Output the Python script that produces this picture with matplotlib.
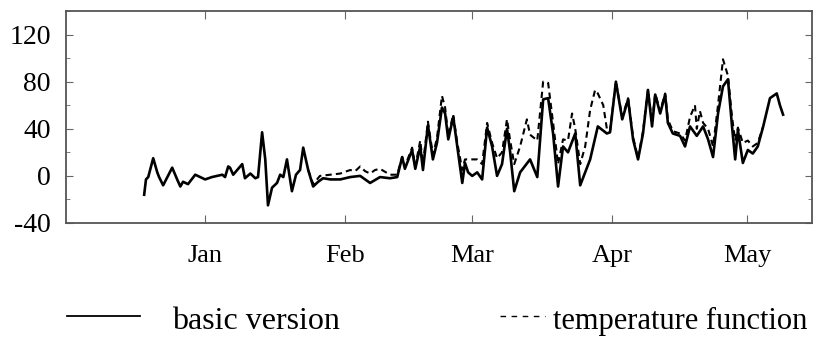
import matplotlib
matplotlib.use("Agg")
import matplotlib.pyplot as plt
from matplotlib.lines import Line2D
from matplotlib.ticker import MultipleLocator

plt.rcParams['font.family'] = ['Liberation Serif', 'DejaVu Serif']
plt.rcParams['axes.unicode_minus'] = False

# days counted from 1 January
basic_day = [-13.5, -13.1, -12.6, -11.5, -10.6, -10.2, -9.3, -7.3, -6.2, -5.5,
             -4.9, -3.8, -2.2, -1.1, 0.0, 1.5, 3.8, 4.4, 5.1, 5.5,
             6.2, 7.1, 8.2, 8.8, 10.0, 11.1, 11.7, 12.6, 13.3, 13.9,
             14.8, 15.9, 16.6, 17.3, 18.1, 19.2, 20.1, 21.0, 21.7, 22.8,
             23.9, 25.0, 26.1, 27.7, 29.9, 32.1, 34.3, 36.5, 38.7, 40.9,
             42.5, 43.6, 44.2, 45.8, 46.5, 47.6, 48.2, 49.3, 50.4, 51.3,
             52.4, 53.1, 53.8, 54.9, 55.8, 56.9, 57.5, 58.2, 59.1, 60.2,
             61.3, 62.4, 63.5, 64.6, 65.7, 66.8, 67.5, 68.4, 69.7, 71.9,
             73.5, 74.8, 75.9, 77.0, 78.1, 79.2, 80.3, 81.9, 83.0, 84.1,
             85.2, 86.9, 88.9, 89.6, 90.9, 92.3, 93.6, 94.7, 95.8, 96.9,
             98.0, 98.9, 99.6, 100.7, 101.8, 102.4, 103.5, 105.1, 106.2, 107.3,
             108.8, 110.2, 111.3, 112.4, 113.5, 114.6, 115.7, 116.6, 117.3, 117.9,
             119.0, 120.1, 121.2, 122.3, 123.5, 125.0, 126.5, 127.2, 127.9]
basic_val = [-16, -3, -1, 15, 3, -1, -8, 7, -3, -9,
             -5, -7, 1, -1, -3, -1, 1, -1, 8, 7,
             1, 5, 10, -2, 2, -2, -1, 37, 14, -25,
             -10, -6, 1, -1, 14, -13, 1, 5, 24, 5,
             -9, -5, -2, -3, -3, -1, 0, -6, -1, -2,
             -1, 16, 6, 22, 6, 25, 5, 43, 14, 28,
             58, 53, 31, 50, 25, -6, 11, 3, 0, 3,
             -3, 41, 25, 0, 10, 40, 20, -13, 3, 14,
             -1, 65, 66, 36, -9, 25, 20, 36, -8, 3,
             14, 42, 36, 37, 80, 48, 65, 31, 14, 36,
             73, 42, 69, 53, 69, 45, 36, 34, 25, 42,
             34, 42, 31, 16, 53, 76, 82, 42, 14, 39,
             11, 22, 19, 25, 42, 66, 70, 60, 52]

# temperature function: same as basic before early February
temp_day = [22.8, 23.9, 25.4, 27.7, 29.9, 32.1, 33.2, 34.3, 35.4, 36.5,
            37.6, 38.7, 40.9, 42.5, 43.6, 44.2, 45.8, 46.5, 47.6, 48.2,
            49.3, 50.4, 51.3, 52.4, 53.1, 53.8, 54.9, 55.8, 56.9, 57.5,
            59.1, 60.2, 61.3, 62.4, 63.5, 64.6, 65.7, 66.8, 67.5, 68.4,
            69.7, 71.2, 71.9, 73.5, 74.8, 75.9, 77.0, 78.1, 79.2, 80.3,
            81.2, 81.9, 83.0, 84.1, 85.2, 86.3, 86.9, 88.1, 88.9, 89.6,
            90.9, 92.3, 93.6, 94.7, 95.8, 96.9, 98.0, 98.9, 99.6, 100.7,
            101.8, 102.4, 103.5, 105.1, 106.2, 107.3, 108.4, 108.8, 109.5, 110.2,
            111.3, 112.4, 113.5, 114.6, 115.7, 116.6, 117.3, 117.9, 119.0, 120.1,
            121.2, 122.3, 123.5]
temp_val = [5, -7, 0, 1, 2, 5, 4, 8, 4, 2,
            5, 6, 1, 1, 16, 8, 24, 8, 30, 10,
            46, 18, 32, 68, 58, 34, 52, 28, 5, 14,
            14, 14, 10, 45, 28, 15, 20, 48, 30, 10,
            25, 48, 35, 30, 80, 79, 45, 10, 31, 30,
            53, 40, 10, 25, 56, 73, 70, 60, 40, 38,
            80, 50, 66, 33, 15, 38, 73, 45, 70, 55,
            70, 48, 38, 36, 30, 50, 60, 40, 55, 45,
            40, 25, 60, 99, 85, 50, 30, 41, 28, 30,
            25, 28, 42]

month_pos = [0, 31, 59, 90, 120]
month_lbl = ['Jan', 'Feb', 'Mar', 'Apr', 'May']
y_ticks = [-40, 0, 40, 80, 120]

fig = plt.figure(figsize=(8.13, 3.37), dpi=100)
ax = fig.add_axes([66 / 813, 1 - 223 / 337, 746 / 813, 212 / 337])

ax.plot(temp_day, temp_val, color='black', lw=1.5, ls=(0, (3, 2)))
ax.plot(basic_day, basic_val, color='black', lw=1.9)

ax.set_xlim(-30.8, 134.3)
ax.set_ylim(-40, 140)
ax.set_xticks(month_pos)
ax.set_xticklabels(month_lbl)
ax.set_yticks(y_ticks)
ax.yaxis.set_minor_locator(MultipleLocator(20))

for s in ax.spines.values():
    s.set_color('#555555')
    s.set_linewidth(1.3)
ax.tick_params(axis='both', which='both', direction='in', top=True, right=True,
               color='#666666')
ax.tick_params(axis='x', length=6, pad=16, labelsize=19)
ax.tick_params(axis='y', which='major', length=5, pad=11, labelsize=20)
ax.tick_params(axis='y', which='minor', length=3)

# legend drawn under the axes
fig.add_artist(Line2D([67 / 813, 140 / 813], [1 - 316 / 337] * 2,
                      color='black', lw=1.3))
fig.text(172 / 813, 1 - 329 / 337, 'basic version', fontsize=23, va='baseline')
fig.add_artist(Line2D([500 / 813, 545 / 813], [1 - 316 / 337] * 2,
                      color='black', lw=1.0, ls=(0, (4, 4))))
fig.text(553 / 813, 1 - 329 / 337, 'temperature function', fontsize=22,
         va='baseline')

fig.savefig('out.png', dpi=100)
